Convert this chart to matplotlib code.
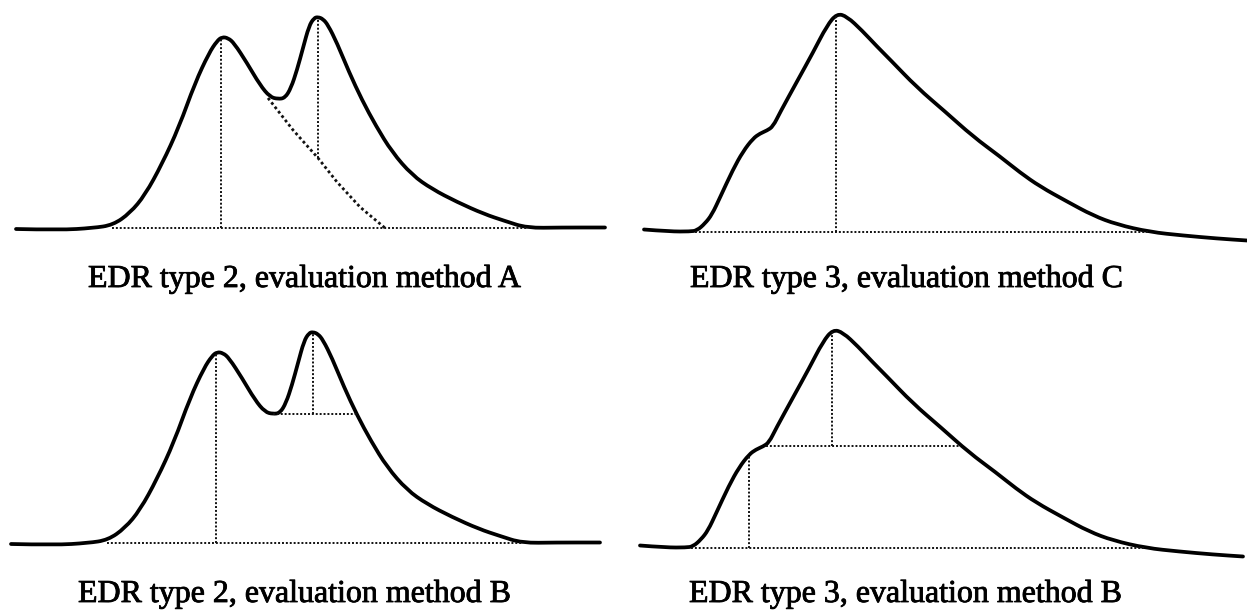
import numpy as np
import matplotlib.pyplot as plt
import matplotlib.patheffects as pe
from matplotlib.path import Path
from matplotlib.patches import PathPatch

# EDR type 2 trace (x along run, h = signal above baseline)
type2_x = [16, 60, 93, 113, 130, 145, 162, 179, 195, 209, 217, 222, 228, 234,
           247, 260, 270, 278, 285, 291, 297, 303, 309, 314, 318, 323, 328,
           337, 349, 362, 376, 392, 412, 432, 457, 484, 505, 527, 560, 605]
type2_h = [-1, -2, 0, 3, 15, 33, 64, 101, 145, 175, 187, 191, 190, 185,
           165, 143, 131, 129, 130, 140, 158, 180, 202, 210, 211, 209, 203,
           185, 156, 128, 102, 76, 53, 39, 26, 14, 7, 0, 0.5, 0.5]

# EDR type 3 trace
type3_x = [644, 670, 690, 697, 705, 712, 720, 733, 743, 753, 760, 767, 773,
           780, 797, 813, 827, 837, 847, 862, 877, 890, 917, 945, 973, 1000,
           1020, 1040, 1067, 1093, 1117, 1150, 1183, 1217, 1247]
type3_h = [2, 0, 0, 1, 8, 17, 34, 62, 80, 93, 98, 101, 105,
           119, 150, 179, 206, 218, 215, 201, 185, 172, 144, 120, 95, 75,
           59, 45, 30, 16, 7, -0.5, -4, -7, -9]

# evaluation constructions
type2_base = [112, 527]
type2_peaks = [221, 318]
type2_valley = 278
skim_x = [268, 293, 318, 337, 360, 385]
skim_h = [130, 98, 70, 46, 21, 0]

type3_base = [695, 1150]
type3_peak = 836
type3_shoulder = 753
type3_level = 102
type3_level_start = 770

titles = ["EDR type 2, evaluation method A", "EDR type 3, evaluation method C",
          "EDR type 2, evaluation method B", "EDR type 3, evaluation method B"]

W, H = 1247, 612
fig = plt.figure(figsize=(W / 100, H / 100), dpi=100)

def panel(left, top, w, h, xoff, base):
    ax = fig.add_axes([left / W, 1 - (top + h) / H, w / W, h / H])
    ax.set_xlim(left + xoff, left + w + xoff)
    ax.set_ylim(base - (top + h), base - top)
    ax.axis('off')
    return ax

DOT = dict(color='#111111', lw=1.4, linestyle=(0, (1, 1.0)), clip_on=False)
SKIM = dict(color='#111111', lw=2.0, linestyle=(0, (1, 1.0)), clip_on=False)

x2 = np.array(type2_x, float); h2 = np.array(type2_h, float)
x3 = np.array(type3_x, float); h3 = np.array(type3_h, float)

def h_at(x, xs, hs):
    return np.interp(x, xs, hs)

def right_cross(level, xs, hs, x_from):
    m = xs >= x_from
    xr, hr = xs[m], hs[m]
    return np.interp(level, hr[::-1], xr[::-1])

def smooth_trace(ax, xs, hs):
    # quadratic bezier through midpoints, read points as control points
    pts = np.column_stack([xs, hs])
    verts = [pts[0]]
    codes = [Path.MOVETO]
    for i in range(1, len(pts) - 1):
        verts += [pts[i], (pts[i] + pts[i + 1]) / 2]
        codes += [Path.CURVE3, Path.CURVE3]
    verts.append(pts[-1])
    codes.append(Path.LINETO)
    ax.add_patch(PathPatch(Path(verts, codes), fill=False, edgecolor='black',
                           lw=2.7, capstyle='round', joinstyle='round', clip_on=False))

ax1 = panel(0, 0, 623.5, 306, 0, 228)
ax2 = panel(623.5, 0, 623.5, 306, 0, 231.5)
ax3 = panel(0, 306, 623.5, 306, 5, 543)
ax4 = panel(623.5, 306, 623.5, 306, 4, 547.5)

# type 2, method A
ax1.plot(type2_base, [0, 0], **DOT)
ax1.plot([type2_peaks[0]] * 2, [0, h_at(type2_peaks[0], x2, h2) - 1], **DOT)
ax1.plot([type2_peaks[1]] * 2, [h_at(type2_peaks[1], skim_x, skim_h), h_at(type2_peaks[1], x2, h2) - 1], **DOT)
ax1.plot(skim_x, skim_h, **SKIM)
smooth_trace(ax1, x2, h2)

# type 3, method C
ax2.plot(type3_base, [0, 0], **DOT)
ax2.plot([type3_peak] * 2, [0, h_at(type3_peak, x3, h3) - 1], **DOT)
smooth_trace(ax2, x3, h3)

# type 2, method B
vh = h_at(type2_valley, x2, h2)
ax3.plot(type2_base, [0, 0], **DOT)
ax3.plot([type2_peaks[0]] * 2, [0, h_at(type2_peaks[0], x2, h2) - 1], **DOT)
ax3.plot([type2_valley, right_cross(vh, x2, h2, type2_peaks[1])], [vh, vh], **DOT)
ax3.plot([type2_peaks[1]] * 2, [vh, h_at(type2_peaks[1], x2, h2) - 1], **DOT)
smooth_trace(ax3, x2, h2)

# type 3, method B
ax4.plot(type3_base, [0, 0], **DOT)
ax4.plot([type3_shoulder] * 2, [0, h_at(type3_shoulder, x3, h3)], **DOT)
ax4.plot([type3_level_start, right_cross(type3_level, x3, h3, type3_peak)],
         [type3_level, type3_level], **DOT)
ax4.plot([type3_peak] * 2, [type3_level, h_at(type3_peak, x3, h3) - 1], **DOT)
smooth_trace(ax4, x3, h3)

text_pos = [(305, 287), (907, 287), (295, 602), (906, 602)]
for (tx, ty), t in zip(text_pos, titles):
    fig.text(tx / W, 1 - ty / H, t, ha='center', va='baseline',
             fontsize=23, family='Liberation Serif', color='black',
             path_effects=[pe.withStroke(linewidth=0.6, foreground='black')])

fig.savefig('out.png', dpi=100)
